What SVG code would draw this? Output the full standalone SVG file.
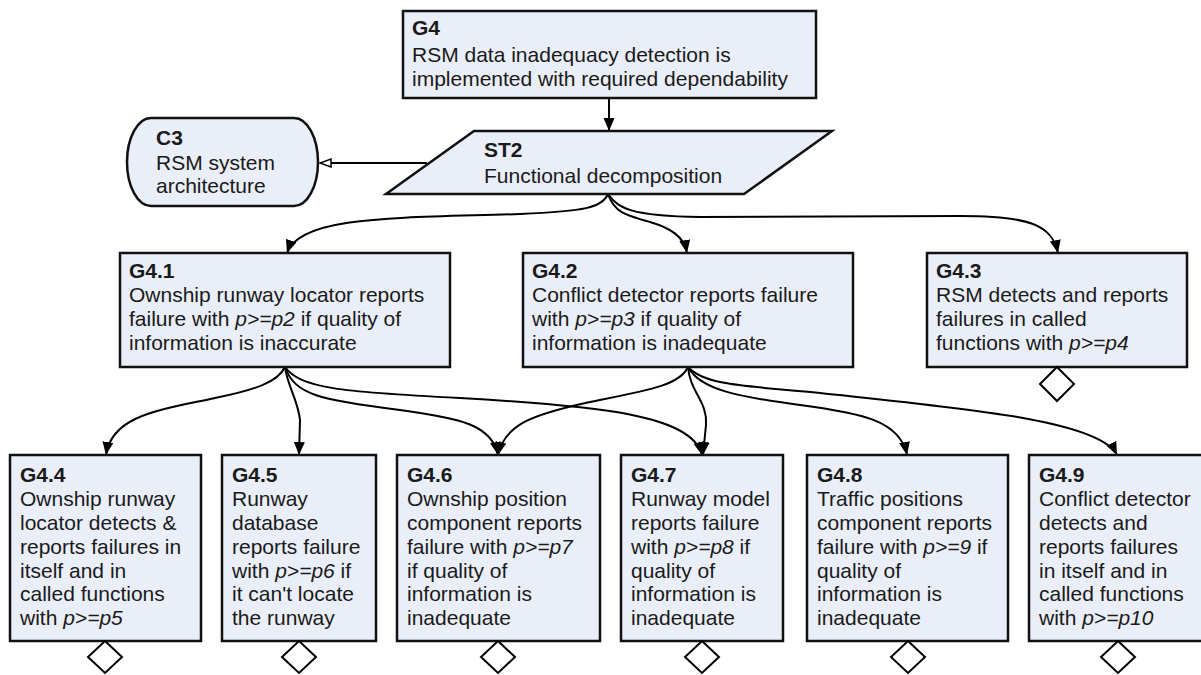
<svg xmlns="http://www.w3.org/2000/svg" width="1201" height="675" viewBox="0 0 1201 675">
<style>
.box{fill:#E9EEF8;stroke:#111;stroke-width:2.5}
.t{font-family:"Liberation Sans",Arial,sans-serif;font-size:21px;fill:#1a1a1a}
.b{font-weight:bold}
.i{font-style:italic}
.c{fill:none;stroke:#000;stroke-width:2}
.d{fill:#fff;stroke:#000;stroke-width:2}
</style>
<defs>
<marker id="ah" markerUnits="userSpaceOnUse" markerWidth="14" markerHeight="12" refX="13" refY="5.5" orient="auto">
<path d="M0,0 L13,5.5 L0,11 z" fill="#000"/>
</marker>
<marker id="oh" markerUnits="userSpaceOnUse" markerWidth="14" markerHeight="12" refX="12" refY="5" orient="auto">
<path d="M1,1 L12,5 L1,9 z" fill="#fff" stroke="#000" stroke-width="1.5"/>
</marker>
</defs>
<g id="connectors">
<path class="c" d="M609,98 L609,131" marker-end="url(#ah)"/>
<path class="c" d="M427,163 L320,163" marker-end="url(#oh)"/>
<path class="c" d="M608,194 C602,208 585,211 520,214 C400,218 300,215 287,253" marker-end="url(#ah)"/>
<path class="c" d="M608,194 C614,212 625,215 650,222 C670,228 684,236 687,253" marker-end="url(#ah)"/>
<path class="c" d="M608,194 C618,208 630,216 700,217 L960,216 C1030,216 1052,225 1058,253" marker-end="url(#ah)"/>
<path class="c" d="M285,367 C278,382 255,390 215,398 C160,410 112,415 106,455" marker-end="url(#ah)"/>
<path class="c" d="M285,367 C287,385 298,400 300,420 L299,455" marker-end="url(#ah)"/>
<path class="c" d="M285,367 C295,395 320,400 400,410 C460,418 492,425 498,455" marker-end="url(#ah)"/>
<path class="c" d="M285,367 C300,388 340,392 460,398 C600,406 692,415 702,455" marker-end="url(#ah)"/>
<path class="c" d="M688,367 C680,385 650,390 590,402 C530,415 505,425 498,455" marker-end="url(#ah)"/>
<path class="c" d="M688,367 C690,392 708,402 706,425 L703,455" marker-end="url(#ah)"/>
<path class="c" d="M688,367 C700,390 740,397 800,405 C860,413 900,420 907,455" marker-end="url(#ah)"/>
<path class="c" d="M688,367 C705,386 750,386 820,393 C960,408 1100,420 1117,455" marker-end="url(#ah)"/>
</g>
<g id="G4">
<rect class="box" x="403" y="11" width="413" height="87"/>
<text class="t" x="412" y="35"><tspan class="b">G4</tspan><tspan x="412" y="62">RSM data inadequacy detection is</tspan><tspan x="412" y="86">implemented with required dependability</tspan></text>
</g>
<g id="C3">
<rect class="box" x="127" y="118" width="191" height="88" rx="24" ry="44"/>
<text class="t" x="156" y="145"><tspan class="b">C3</tspan><tspan x="156" y="170">RSM system</tspan><tspan x="156" y="193">architecture</tspan></text>
</g>
<g id="ST2">
<polygon class="box" points="474,131 832,131 744,194 386,194"/>
<text class="t" x="484" y="157"><tspan class="b">ST2</tspan><tspan x="484" y="183">Functional decomposition</tspan></text>
</g>
<g id="G4.1">
<rect class="box" x="120" y="253" width="330" height="114"/>
<text class="t" x="129" y="278"><tspan class="b">G4.1</tspan><tspan x="129" y="302">Ownship runway locator reports</tspan><tspan x="129" y="326">failure with <tspan class="i">p&gt;=p2</tspan> if quality of</tspan><tspan x="129" y="350">information is inaccurate</tspan></text>
</g>
<g id="G4.2">
<rect class="box" x="523" y="253" width="330" height="114"/>
<text class="t" x="532" y="278"><tspan class="b">G4.2</tspan><tspan x="532" y="302">Conflict detector reports failure</tspan><tspan x="532" y="326">with <tspan class="i">p&gt;=p3</tspan> if quality of</tspan><tspan x="532" y="350">information is inadequate</tspan></text>
</g>
<g id="G4.3">
<rect class="box" x="927" y="253" width="260" height="114"/>
<text class="t" x="936" y="278"><tspan class="b">G4.3</tspan><tspan x="936" y="302">RSM detects and reports</tspan><tspan x="936" y="326">failures in called</tspan><tspan x="936" y="350">functions with <tspan class="i">p&gt;=p4</tspan></tspan></text>
<polygon class="d" points="1057,367 1074,384 1057,401 1040,384"/>
</g>
<g id="G4.4">
<rect class="box" x="10" y="455" width="191" height="186"/>
<text class="t" x="20" y="482"><tspan class="b">G4.4</tspan><tspan x="20" y="506">Ownship runway</tspan><tspan x="20" y="530">locator detects &amp;</tspan><tspan x="20" y="554">reports failures in</tspan><tspan x="20" y="578">itself and in</tspan><tspan x="20" y="601">called functions</tspan><tspan x="20" y="625">with <tspan class="i">p&gt;=p5</tspan></tspan></text>
<polygon class="d" points="105,641 122,657 105,673 88,657"/>
</g>
<g id="G4.5">
<rect class="box" x="222" y="455" width="154" height="186"/>
<text class="t" x="232" y="482"><tspan class="b">G4.5</tspan><tspan x="232" y="506">Runway</tspan><tspan x="232" y="530">database</tspan><tspan x="232" y="554">reports failure</tspan><tspan x="232" y="578">with <tspan class="i">p&gt;=p6</tspan> if</tspan><tspan x="232" y="601">it can't locate</tspan><tspan x="232" y="625">the runway</tspan></text>
<polygon class="d" points="299,641 316,657 299,673 282,657"/>
</g>
<g id="G4.6">
<rect class="box" x="397" y="455" width="203" height="186"/>
<text class="t" x="407" y="482"><tspan class="b">G4.6</tspan><tspan x="407" y="506">Ownship position</tspan><tspan x="407" y="530">component reports</tspan><tspan x="407" y="554">failure with <tspan class="i">p&gt;=p7</tspan></tspan><tspan x="407" y="578">if quality of</tspan><tspan x="407" y="601">information is</tspan><tspan x="407" y="625">inadequate</tspan></text>
<polygon class="d" points="498,641 515,657 498,673 481,657"/>
</g>
<g id="G4.7">
<rect class="box" x="621" y="455" width="162" height="186"/>
<text class="t" x="631" y="482"><tspan class="b">G4.7</tspan><tspan x="631" y="506">Runway model</tspan><tspan x="631" y="530">reports failure</tspan><tspan x="631" y="554">with <tspan class="i">p&gt;=p8</tspan> if</tspan><tspan x="631" y="578">quality of</tspan><tspan x="631" y="601">information is</tspan><tspan x="631" y="625">inadequate</tspan></text>
<polygon class="d" points="702,641 719,657 702,673 685,657"/>
</g>
<g id="G4.8">
<rect class="box" x="807" y="455" width="201" height="186"/>
<text class="t" x="817" y="482"><tspan class="b">G4.8</tspan><tspan x="817" y="506">Traffic positions</tspan><tspan x="817" y="530">component reports</tspan><tspan x="817" y="554">failure with <tspan class="i">p&gt;=9</tspan> if</tspan><tspan x="817" y="578">quality of</tspan><tspan x="817" y="601">information is</tspan><tspan x="817" y="625">inadequate</tspan></text>
<polygon class="d" points="908,641 925,657 908,673 891,657"/>
</g>
<g id="G4.9">
<rect class="box" x="1029" y="455" width="178" height="186"/>
<text class="t" x="1039" y="482"><tspan class="b">G4.9</tspan><tspan x="1039" y="506">Conflict detector</tspan><tspan x="1039" y="530">detects and</tspan><tspan x="1039" y="554">reports failures</tspan><tspan x="1039" y="578">in itself and in</tspan><tspan x="1039" y="601">called functions</tspan><tspan x="1039" y="625">with <tspan class="i">p&gt;=p10</tspan></tspan></text>
<polygon class="d" points="1118,641 1135,657 1118,673 1101,657"/>
</g>
</svg>
